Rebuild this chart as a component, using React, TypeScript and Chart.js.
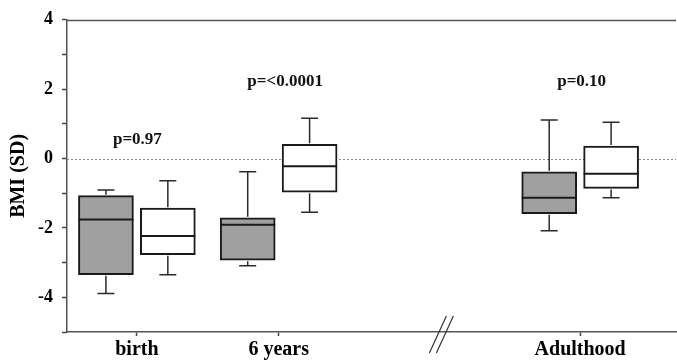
import React, { useEffect, useRef } from "react";
import { Chart, registerables } from "chart.js";

Chart.register(...registerables);

// ---- data ----
const categories = ["birth", "6 years", "Adulthood"];
// grey boxes (first series)
const greyMin = [-3.89, -3.09, -2.08];
const greyQ1 = [-3.35, -2.93, -1.59];
const greyMed = [-1.76, -1.91, -1.13];
const greyQ3 = [-1.07, -1.71, -0.38];
const greyMax = [-0.91, -0.38, 1.11];
// white boxes (second series)
const whiteMin = [-3.35, -1.55, -1.13];
const whiteQ1 = [-2.77, -0.97, -0.86];
const whiteMed = [-2.23, -0.22, -0.44];
const whiteQ3 = [-1.43, 0.41, 0.36];
const whiteMax = [-0.64, 1.16, 1.05];
// p-value annotations
const pLabels = ["p=0.97", "p=<0.0001", "p=0.10"];
const pValueY = [0.55, 2.21, 2.21];
const yTickLabels = ["4", "2", "0", "-2", "-4"];

// ---- layout (axis units, not data) ----
const catX = [7, 21.2, 51.4];
const pX = [7.05, 21.85, 51.55];
const boxOffset = 3.1;
const breakX = 37.5;

const FONT = "'Liberation Serif', 'Times New Roman', serif";

const series = [
  { min: greyMin, q1: greyQ1, med: greyMed, q3: greyQ3, max: greyMax, fill: "#a0a0a0", dx: -boxOffset },
  { min: whiteMin, q1: whiteQ1, med: whiteMed, q3: whiteQ3, max: whiteMax, fill: "#ffffff", dx: boxOffset },
];

const boxPlugin = {
  id: "boxExtras",
  beforeDatasetsDraw(chart: any) {
    const { ctx, chartArea, scales } = chart;
    const y = scales.y;
    const y0 = Math.round(y.getPixelForValue(0)) + 0.5;
    ctx.save();
    ctx.setLineDash([2, 2]);
    ctx.strokeStyle = "#8a8a8a";
    ctx.lineWidth = 1;
    ctx.beginPath();
    ctx.moveTo(chartArea.left, y0);
    ctx.lineTo(chartArea.right, y0);
    ctx.stroke();
    ctx.setLineDash([]);
    // top frame line
    ctx.strokeStyle = "#555";
    ctx.lineWidth = 1.5;
    ctx.beginPath();
    ctx.moveTo(chartArea.left, chartArea.top + 0.75);
    ctx.lineTo(chartArea.right, chartArea.top + 0.75);
    ctx.stroke();
    ctx.restore();
  },
  afterDatasetsDraw(chart: any) {
    const { ctx, scales } = chart;
    const y = scales.y;
    const x = scales.x;
    ctx.save();
    series.forEach((s, di) => {
      const meta = chart.getDatasetMeta(di);
      meta.data.forEach((bar: any, i: number) => {
        const cx = bar.x;
        const w = bar.width;
        const yMin = y.getPixelForValue(s.min[i]);
        const yQ1 = y.getPixelForValue(s.q1[i]);
        const yQ3 = y.getPixelForValue(s.q3[i]);
        const yMax = y.getPixelForValue(s.max[i]);
        const yMed = y.getPixelForValue(s.med[i]);
        ctx.strokeStyle = "#2a2a2a";
        ctx.lineWidth = 1.5;
        ctx.beginPath();
        ctx.moveTo(cx, yQ3 - 1);
        ctx.lineTo(cx, yMax);
        ctx.moveTo(cx - 8.5, yMax);
        ctx.lineTo(cx + 8.5, yMax);
        ctx.moveTo(cx, yQ1 + 1);
        ctx.lineTo(cx, yMin);
        ctx.moveTo(cx - 8.5, yMin);
        ctx.lineTo(cx + 8.5, yMin);
        ctx.stroke();
        ctx.lineWidth = 2;
        ctx.strokeStyle = "#1a1a1a";
        ctx.beginPath();
        ctx.moveTo(cx - w / 2, yMed);
        ctx.lineTo(cx + w / 2, yMed);
        ctx.stroke();
      });
    });
    // p-value labels
    ctx.fillStyle = "#111";
    ctx.font = `bold 17px ${FONT}`;
    ctx.textAlign = "center";
    ctx.textBaseline = "middle";
    pLabels.forEach((t, i) => {
      ctx.fillText(t, x.getPixelForValue(pX[i]), y.getPixelForValue(pValueY[i]));
    });
    ctx.restore();
  },
  afterDraw(chart: any) {
    const { ctx, chartArea, scales } = chart;
    const bx = scales.x.getPixelForValue(breakX);
    const by = chartArea.bottom;
    ctx.save();
    ctx.strokeStyle = "#333";
    ctx.lineWidth = 1.2;
    ctx.beginPath();
    ctx.moveTo(bx - 12, by + 21);
    ctx.lineTo(bx + 5, by - 16);
    ctx.moveTo(bx - 5, by + 21);
    ctx.lineTo(bx + 12, by - 16);
    ctx.stroke();
    ctx.restore();
  },
};

export default function App() {
  const ref = useRef<HTMLCanvasElement>(null);
  useEffect(() => {
    if (!ref.current) return;
    const datasets = series.map((s) => ({
      data: categories.map((_, i) => ({ x: catX[i] + s.dx, y: [s.q1[i], s.q3[i]] })),
      backgroundColor: s.fill,
      borderColor: "#1a1a1a",
      borderWidth: 2,
      borderSkipped: false,
      barThickness: 55,
      grouped: false,
    }));
    const chart = new Chart(ref.current, {
      type: "bar",
      data: { datasets: datasets as any },
      options: {
        animation: false,
        responsive: false,
        layout: { padding: { top: 13, right: 1, left: 0, bottom: 0 } },
        plugins: { legend: { display: false }, tooltip: { enabled: false } },
        scales: {
          x: {
            type: "linear",
            min: 0,
            max: 61,
            offset: false,
            afterFit: (sc: any) => { sc.height = 30; },
            afterBuildTicks: (sc: any) => { sc.ticks = catX.map((v) => ({ value: v })); },
            ticks: {
              autoSkip: false,
              maxRotation: 0,
              padding: 2,
              color: "#000",
              font: { family: FONT, size: 20, weight: "bold" },
              callback: (_v: any, i: number) => categories[i],
            },
            grid: { offset: false, drawOnChartArea: false, tickLength: 4, tickColor: "#444", tickWidth: 1.5 },
            border: { color: "#555", width: 1.5 },
          },
          y: {
            min: -5,
            max: 4,
            afterFit: (sc: any) => { sc.width = 67; },
            ticks: {
              stepSize: 1,
              padding: 9,
              color: "#000",
              font: { family: FONT, size: 18, weight: "bold" },
              callback: (v: any) => (Math.abs(v) % 2 === 0 ? yTickLabels[(4 - v) / 2] : ""),
            },
            grid: { drawOnChartArea: false, tickLength: 5, tickColor: "#444", tickWidth: 1.5 },
            border: { color: "#555", width: 1.5 },
            title: {
              display: true,
              text: "BMI (SD)",
              color: "#000",
              padding: { top: 7, bottom: 0 },
              font: { family: FONT, size: 20, weight: "bold" },
            },
          },
        },
      },
      plugins: [boxPlugin],
    });
    return () => chart.destroy();
  }, []);
  return (
    <div style={{ position: "fixed", left: 0, top: 0, width: 677, height: 362, background: "#fff" }}>
      <canvas ref={ref} width={677} height={362} style={{ display: "block" }} />
    </div>
  );
}
